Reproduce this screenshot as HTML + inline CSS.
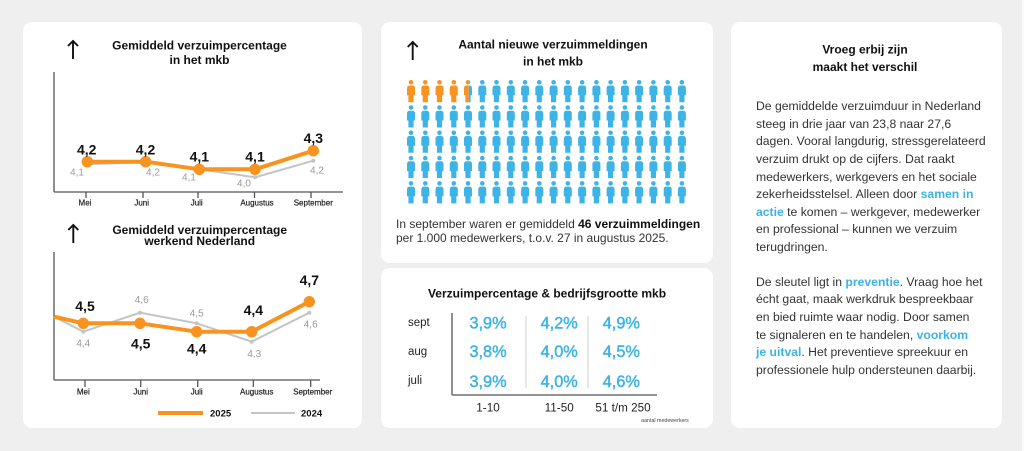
<!DOCTYPE html>
<html><head><meta charset="utf-8">
<style>
html,body{margin:0;padding:0}
body{width:1024px;height:451px;background:#efefef;position:relative;overflow:hidden;font-family:"Liberation Sans",Arial,sans-serif}
.card{position:absolute;background:#fff;border-radius:9px}
.txt{position:absolute;white-space:nowrap;color:#333}
.b{font-weight:bold;color:#3db3e4}
svg{position:absolute;left:0;top:0}
</style></head><body>
<div class="card" style="left:23px;top:22px;width:339px;height:406px"></div>
<div class="card" style="left:381px;top:22px;width:332px;height:241px"></div>
<div class="card" style="left:381px;top:268px;width:332px;height:160px"></div>
<div class="card" style="left:731px;top:22px;width:271px;height:406px"></div>
<div style="position:absolute;left:1022px;top:0;width:2px;height:451px;background:#fafafa"></div>

<svg width="1024" height="451" viewBox="0 0 1024 451" font-family="Liberation Sans, Arial, sans-serif">
<defs>
<g id="p">
<circle cx="0" cy="0" r="2.3"/>
<path d="M-4,6 Q-4,3.2 -1.5,3.2 L1.5,3.2 Q4,3.2 4,6 L4,13 L2.6,13 L2.6,20 L-2.6,20 L-2.6,13 L-4,13 Z"/>
</g>
<g id="arrow" fill="none" stroke="#111" stroke-width="1.9" stroke-linecap="butt">
<line x1="0" y1="1" x2="0" y2="19"/>
<polyline points="-5,6 0,1 5,6"/>
</g>
<clipPath id="cl"><rect x="460" y="70" width="8.8" height="40"/></clipPath>
<clipPath id="cr"><rect x="468.8" y="70" width="10" height="40"/></clipPath>
</defs>

<!-- ===== Top-left chart ===== -->
<use href="#arrow" x="73" y="40"/>
<text x="199.5" y="49.3" font-size="12" font-weight="bold" text-anchor="middle" fill="#111">Gemiddeld verzuimpercentage</text>
<text x="199.5" y="64" font-size="12" font-weight="bold" text-anchor="middle" fill="#111">in het mkb</text>
<g stroke="#555" stroke-width="1.3" fill="none">
<line x1="54" y1="72" x2="54" y2="192"/>
<line x1="54" y1="192" x2="343" y2="192"/>
<line x1="86" y1="192" x2="86" y2="198"/>
<line x1="143" y1="192" x2="143" y2="198"/>
<line x1="198" y1="192" x2="198" y2="198"/>
<line x1="254.5" y1="192" x2="254.5" y2="198"/>
<line x1="311" y1="192" x2="311" y2="198"/>
</g>
<polyline points="87,164.3 145.7,162 199.3,169.3 255,177.3 313.3,160.7" fill="none" stroke="#c4c4c4" stroke-width="2"/>
<g fill="#c4c4c4"><circle cx="87" cy="164.3" r="2"/><circle cx="199.3" cy="169.3" r="2"/><circle cx="255" cy="177.3" r="2"/><circle cx="313.3" cy="160.7" r="2"/></g>
<polyline points="87.3,161.7 145.7,161.7 199.3,169.3 255,169.3 313.3,150.7" fill="none" stroke="#f7931e" stroke-width="4" stroke-linejoin="round"/>
<g fill="#f7931e"><circle cx="87.3" cy="161.7" r="5.7"/><circle cx="145.7" cy="161.7" r="5.7"/><circle cx="199.3" cy="169.3" r="5.7"/><circle cx="255" cy="169.3" r="5.7"/><circle cx="313.3" cy="150.7" r="5.7"/></g>
<g font-size="14" font-weight="bold" fill="#111" text-anchor="middle">
<text x="86.7" y="154.3">4,2</text><text x="145.5" y="154.3">4,2</text><text x="199.3" y="161.7">4,1</text><text x="255" y="161.7">4,1</text><text x="313.3" y="143">4,3</text>
</g>
<g font-size="10" fill="#9a9a9a" text-anchor="middle">
<text x="77" y="175.6">4,1</text><text x="153" y="175.6">4,2</text><text x="189" y="180.6">4,1</text><text x="244" y="186.6">4,0</text><text x="317" y="173.6">4,2</text>
</g>
<g font-size="8" fill="#222" stroke="#222" stroke-width="0.2" text-anchor="middle">
<text x="85" y="205.7">Mei</text><text x="141.7" y="205.7">Juni</text><text x="196.7" y="205.7">Juli</text><text x="257" y="205.7">Augustus</text><text x="313.3" y="205.7">September</text>
</g>

<!-- ===== Bottom-left chart ===== -->
<use href="#arrow" x="73.3" y="224"/>
<text x="199.7" y="234" font-size="12" font-weight="bold" text-anchor="middle" fill="#111">Gemiddeld verzuimpercentage</text>
<text x="199.7" y="245" font-size="12" font-weight="bold" text-anchor="middle" fill="#111">werkend Nederland</text>
<g stroke="#555" stroke-width="1.3" fill="none">
<line x1="54" y1="252" x2="54" y2="380"/>
<line x1="54" y1="380" x2="320" y2="380"/>
<line x1="85" y1="380" x2="85" y2="387"/>
<line x1="140.7" y1="380" x2="140.7" y2="387"/>
<line x1="197.7" y1="380" x2="197.7" y2="387"/>
<line x1="253.3" y1="380" x2="253.3" y2="387"/>
<line x1="310.7" y1="380" x2="310.7" y2="387"/>
</g>
<polyline points="54,316.7 83.3,331.7 140,312.7 196.7,323.3 251.7,341.7 309.3,312.7" fill="none" stroke="#c4c4c4" stroke-width="2"/>
<g fill="#c4c4c4"><circle cx="83.3" cy="331.7" r="2"/><circle cx="140" cy="312.7" r="2"/><circle cx="196.7" cy="323.3" r="2"/><circle cx="251.7" cy="341.7" r="2"/><circle cx="309.3" cy="312.7" r="2"/></g>
<polyline points="54,316.7 83.3,323.3 140,323.3 196.7,331.7 251.7,331.7 309.3,301.7" fill="none" stroke="#f7931e" stroke-width="4" stroke-linejoin="round"/>
<g fill="#f7931e"><circle cx="83.3" cy="323.3" r="5.7"/><circle cx="140" cy="323.3" r="5.7"/><circle cx="196.7" cy="331.7" r="5.7"/><circle cx="251.7" cy="331.7" r="5.7"/><circle cx="309.3" cy="301.7" r="5.7"/></g>
<g font-size="14" font-weight="bold" fill="#111" text-anchor="middle">
<text x="85" y="311">4,5</text><text x="140.7" y="348.3">4,5</text><text x="196.7" y="353.3">4,4</text><text x="253.3" y="315">4,4</text><text x="309.3" y="285">4,7</text>
</g>
<g font-size="10" fill="#9a9a9a" text-anchor="middle">
<text x="83.3" y="346.3">4,4</text><text x="141.7" y="302.9">4,6</text><text x="196.7" y="316.3">4,5</text><text x="254.3" y="356.9">4,3</text><text x="310.7" y="327.6">4,6</text>
</g>
<g font-size="8" fill="#222" stroke="#222" stroke-width="0.2" text-anchor="middle">
<text x="83.3" y="394.7">Mei</text><text x="140.7" y="394.7">Juni</text><text x="196.7" y="394.7">Juli</text><text x="256.7" y="394.7">Augustus</text><text x="312.7" y="394.7">September</text>
</g>
<line x1="158" y1="413" x2="203" y2="413" stroke="#f7931e" stroke-width="4"/>
<text x="210" y="416.5" font-size="9.5" font-weight="bold" fill="#111">2025</text>
<line x1="251" y1="413" x2="295" y2="413" stroke="#c4c4c4" stroke-width="2"/>
<text x="301" y="416.5" font-size="9.5" font-weight="bold" fill="#111">2024</text>

<!-- ===== Middle top: icons ===== -->
<use href="#arrow" x="412.7" y="41"/>
<text x="553" y="48.3" font-size="12" font-weight="bold" text-anchor="middle" fill="#111">Aantal nieuwe verzuimmeldingen</text>
<text x="553" y="65.7" font-size="12" font-weight="bold" text-anchor="middle" fill="#111">in het mkb</text>
<g fill="#3eb4e6">
<use href="#p" x="482.3" y="82.3"/><use href="#p" x="496.5" y="82.3"/><use href="#p" x="510.8" y="82.3"/><use href="#p" x="525.1" y="82.3"/><use href="#p" x="539.3" y="82.3"/><use href="#p" x="553.6" y="82.3"/><use href="#p" x="567.8" y="82.3"/><use href="#p" x="582.1" y="82.3"/><use href="#p" x="596.4" y="82.3"/><use href="#p" x="610.6" y="82.3"/><use href="#p" x="624.9" y="82.3"/><use href="#p" x="639.1" y="82.3"/><use href="#p" x="653.4" y="82.3"/><use href="#p" x="667.7" y="82.3"/><use href="#p" x="681.9" y="82.3"/>
</g>
<g fill="#f7931e">
<use href="#p" x="411" y="82.3"/><use href="#p" x="425.3" y="82.3"/><use href="#p" x="439.5" y="82.3"/><use href="#p" x="453.8" y="82.3"/>
</g>
<g clip-path="url(#cl)"><use href="#p" x="468" y="82.3" fill="#f7931e"/></g>
<g clip-path="url(#cr)"><use href="#p" x="468" y="82.3" fill="#3eb4e6"/></g>
<g id="row" fill="#3eb4e6">
<use href="#p" x="411" y="107.5"/><use href="#p" x="425.3" y="107.5"/><use href="#p" x="439.5" y="107.5"/><use href="#p" x="453.8" y="107.5"/><use href="#p" x="468" y="107.5"/><use href="#p" x="482.3" y="107.5"/><use href="#p" x="496.5" y="107.5"/><use href="#p" x="510.8" y="107.5"/><use href="#p" x="525.1" y="107.5"/><use href="#p" x="539.3" y="107.5"/><use href="#p" x="553.6" y="107.5"/><use href="#p" x="567.8" y="107.5"/><use href="#p" x="582.1" y="107.5"/><use href="#p" x="596.4" y="107.5"/><use href="#p" x="610.6" y="107.5"/><use href="#p" x="624.9" y="107.5"/><use href="#p" x="639.1" y="107.5"/><use href="#p" x="653.4" y="107.5"/><use href="#p" x="667.7" y="107.5"/><use href="#p" x="681.9" y="107.5"/>
</g>
<use href="#row" y="25.3"/>
<use href="#row" y="50.6"/>
<use href="#row" y="75.9"/>

<!-- ===== Middle bottom: table ===== -->
<text x="547" y="297.7" font-size="12" font-weight="bold" text-anchor="middle" fill="#111">Verzuimpercentage &amp; bedrijfsgrootte mkb</text>
<g stroke="#555" stroke-width="1.3">
<line x1="452" y1="313" x2="452" y2="395"/>
<line x1="452" y1="395" x2="657" y2="395"/>
</g>
<g stroke="#cfcfcf" stroke-width="1">
<line x1="526" y1="316" x2="526" y2="388"/>
<line x1="588" y1="316" x2="588" y2="388"/>
</g>
<g font-size="11.5" fill="#222">
<text x="408" y="326">sept</text><text x="408" y="355">aug</text><text x="408" y="384">juli</text>
</g>
<g font-size="16.3" fill="#3db3e4" stroke="#3db3e4" stroke-width="0.45" text-anchor="middle">
<text x="488" y="328.5">3,9%</text><text x="559.2" y="328.5">4,2%</text><text x="621.3" y="328.5">4,9%</text>
<text x="488" y="356.8">3,8%</text><text x="559.2" y="356.8">4,0%</text><text x="621.3" y="356.8">4,5%</text>
<text x="488" y="386.8">3,9%</text><text x="559.2" y="386.8">4,0%</text><text x="621.3" y="386.8">4,6%</text>
</g>
<g font-size="11.7" fill="#222" text-anchor="middle">
<text x="488" y="411.7">1-10</text><text x="559.2" y="411.7">11-50</text><text x="623" y="411.7">51 t/m 250</text>
</g>
<text x="665" y="422" font-size="5.3" fill="#444" text-anchor="middle">aantal medewerkers</text>

<!-- ===== Right title ===== -->
<text x="865" y="53.3" font-size="12" font-weight="bold" text-anchor="middle" fill="#111">Vroeg erbij zijn</text>
<text x="865" y="71" font-size="12" font-weight="bold" text-anchor="middle" fill="#111">maakt het verschil</text>
</svg>

<div class="txt" style="left:396px;top:216.9px;font-size:12px;line-height:14.3px;">In september waren er gemiddeld <b style="color:#111">46 verzuimmeldingen</b><br>per 1.000 medewerkers, t.o.v. 27 in augustus 2025.</div>

<div class="txt" style="left:756px;top:98.4px;font-size:12.2px;line-height:17.55px;">De gemiddelde verzuimduur in Nederland<br>steeg in drie jaar van 23,8 naar 27,6<br>dagen. Vooral langdurig, stressgerelateerd<br>verzuim drukt op de cijfers. Dat raakt<br>medewerkers, werkgevers en het sociale<br>zekerheidsstelsel. Alleen door <span class="b">samen in</span><br><span class="b">actie</span> te komen – werkgever, medewerker<br>en professional – kunnen we verzuim<br>terugdringen.<br><br>De sleutel ligt in <span class="b">preventie</span>. Vraag hoe het<br>écht gaat, maak werkdruk bespreekbaar<br>en bied ruimte waar nodig. Door samen<br>te signaleren en te handelen, <span class="b">voorkom</span><br><span class="b">je uitval</span>. Het preventieve spreekuur en<br>professionele hulp ondersteunen daarbij.</div>
</body></html>
